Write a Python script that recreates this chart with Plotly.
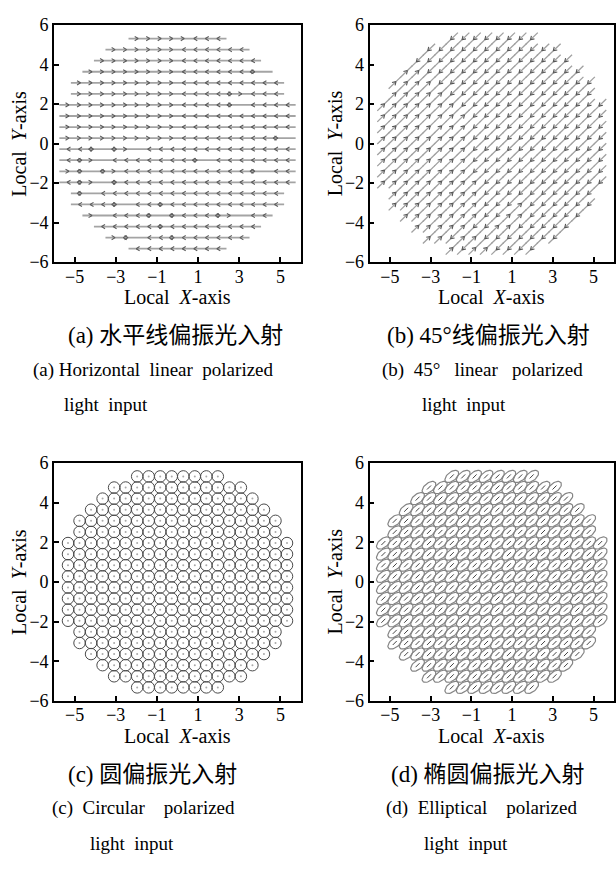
import math
import plotly.graph_objects as go

# ---------------- data ----------------
col_x = [-5.32, -4.76, -4.2, -3.64, -3.08, -2.52, -1.96, -1.4, -0.84, -0.28,
         0.28, 0.84, 1.4, 1.96, 2.52, 3.08, 3.64, 4.2, 4.76, 5.32]
row_y = [5.32, 4.76, 4.2, 3.64, 3.08, 2.52, 1.96, 1.4, 0.84, 0.28,
         -0.28, -0.84, -1.4, -1.96, -2.52, -3.08, -3.64, -4.2, -4.76, -5.32]
row_first = [6, 4, 3, 2, 1, 1, 0, 0, 0, 0, 0, 0, 0, 0, 1, 1, 2, 3, 4, 6]
row_last = [13, 15, 16, 17, 18, 18, 19, 19, 19, 19, 19, 19, 19, 19, 18, 18, 17, 16, 15, 13]

# panel (a): horizontal polarisation direction per cell ('>' right, '<' left, 'B' both, '-' none)
dir_a = [
    ">>>>><<<",
    ">>>>>><<<<<<",
    ">>>>>>><<<<<<<",
    ">>>>>>>><<<<<<B-",
    ">>>>>>>>><<<<<<<<<",
    ">>>>>>>>><<<<B><<<",
    ">>>>>>>>>><<<<B-<<<<",
    ">>>>>>>>>><<<<<<<<<<",
    ">>>>>>>>>><<<<<<<<<<",
    ">>>>>>>>>><<<<<<<<B-",
    "<<B-B>-<<<<<<<<<<<<<",
    "<B>-<<<<<<<B-<<<<<<<",
    ">B-B><<<<<<<<<<<B-<<",
    "<B>-B<<<<<<<<<<<<<<<",
    "B-<<<<<<<<<<<<<<<<",
    "<<<B-<<B<<<<<<<<<<",
    ">-<<<B-B<<<B>-<<",
    "<<<<<B<<<<<<<<",
    ">B-<<B<<<<<<",
    "<<<<<<<<",
]

# panel (b): 45 deg polarisation direction per cell ('u' up-right, 'd' down-left)
dir_b = [
    "dddddddd",
    "dddddddddddd",
    "dddddddddddddd",
    "uudddddddddddddd",
    "uuuudddddddddddddd",
    "uuuuuddddddddddddd",
    "uuuuuuuddddddddddddd",
    "uuuuuuuudddddddddddd",
    "uuuuuuuudddddddddddd",
    "uuuuuuuudddddddddddd",
    "uuuuuuuudddddddddddd",
    "uuuuuuuudddddddddddd",
    "uuuuuuuudddddddddddd",
    "uuuuuuuuuddddddddddd",
    "uuuuuuuudddddddddd",
    "uuuuuuuudddudddddd",
    "uuuuuuudduuddddd",
    "uuuuudduuddddd",
    "uuduuddddddd",
    "uduudddd",
]

# panel (d): ellipse parameters (semi-major, semi-minor, tilt in degrees)
ell_a, ell_b, ell_tilt = 0.40, 0.22, 40.0

x_ticks = [-5, -3, -1, 1, 3, 5]
y_ticks = [-6, -4, -2, 0, 2, 4, 6]

panel_names = ["a", "b", "c", "d"]
caption_cn = ["(a) 水平线偏振光入射", "(b) 45°线偏振光入射", "(c) 圆偏振光入射", "(d) 椭圆偏振光入射"]
caption_en1_label = ["(a)", "(b)", "(c)", "(d)"]
caption_en1_words = [["Horizontal", "linear", "polarized"],
                     ["45°", "linear", "polarized"],
                     ["Circular", "polarized"],
                     ["Elliptical", "polarized"]]
caption_en2_words = ["light", "input"]

# ---------------- layout geometry (pixels) ----------------
W, H = 616, 877
boxes = {  # left, right, top, bottom
    "a": (54, 301, 15.5, 258),
    "b": (369.5, 614, 15.5, 258),
    "c": (54, 301, 463.5, 707),
    "d": (369.5, 614, 463.5, 707),
}
axis_ids = {"a": ("x", "y"), "b": ("x2", "y2"), "c": ("x3", "y3"), "d": ("x4", "y4")}
# caption word spacing (extra no-break spaces after the label / between words), justified lines
label_gap = {"a": 0, "b": 1, "c": 1, "d": 1}
word_gap = {"a": 1, "b": 2, "c": 3, "d": 3}
cap_pos = {  # cn center x, en1 left x, en2 left x, first line y
    "a": (175, 31, 62, 333),
    "b": (489, 380, 420, 333),
    "c": (152, 50, 88, 782),
    "d": (488, 384, 422, 782),
}

SERIF = "Liberation Serif, Times New Roman, Noto Sans CJK SC, serif"
HEAD_LEN = 0.2        # arrow-head arm length (data units)
HEAD_HALF_ANGLE = 32  # degrees


def cells():
    for r, y in enumerate(row_y):
        for k in range(row_first[r], row_last[r] + 1):
            yield r, k, col_x[k], y


def chevron(xs, ys, x, y, ang_deg):
    """append a '>'-like arrow head whose tip is at (x, y) pointing at ang_deg"""
    a = math.radians(ang_deg)
    for s in (+1, -1):
        b = a + math.pi + s * math.radians(HEAD_HALF_ANGLE)
        xs += [x, x + HEAD_LEN * math.cos(b), None]
        ys += [y, y + HEAD_LEN * math.sin(b), None]


fig = go.Figure()

# ----- panel (a) -----
xa, ya = axis_ids["a"]
lx, ly = [], []
for r, y in enumerate(row_y):
    lx += [col_x[row_first[r]] - 0.42, col_x[row_last[r]] + 0.42, None]
    ly += [y, y, None]
fig.add_trace(go.Scatter(x=lx, y=ly, mode="lines", line=dict(color="#a4a4a4", width=1.8),
                         xaxis=xa, yaxis=ya, hoverinfo="skip"))
hx, hy = [], []
for r, k, x, y in cells():
    c = dir_a[r][k - row_first[r]]
    if c == ">":
        chevron(hx, hy, x + 0.05, y, 0)
    elif c == "<":
        chevron(hx, hy, x - 0.05, y, 180)
    elif c == "B":
        chevron(hx, hy, x - 0.12, y, 180)
        chevron(hx, hy, x + 0.12, y, 0)
fig.add_trace(go.Scatter(x=hx, y=hy, mode="lines", line=dict(color="#5a5a5a", width=1.1),
                         xaxis=xa, yaxis=ya, hoverinfo="skip"))

# ----- panel (b) -----
xb, yb = axis_ids["b"]
lx, ly, hx, hy = [], [], [], []
h = 0.3
for r, k, x, y in cells():
    lx += [x - h, x + h, None]
    ly += [y - h, y + h, None]
    c = dir_b[r][k - row_first[r]]
    if c == "u":
        chevron(hx, hy, x + 0.06, y + 0.06, 45)
    else:
        chevron(hx, hy, x - 0.06, y - 0.06, 225)
fig.add_trace(go.Scatter(x=lx, y=ly, mode="lines", line=dict(color="#a0a0a0", width=1.3),
                         xaxis=xb, yaxis=yb, hoverinfo="skip"))
fig.add_trace(go.Scatter(x=hx, y=hy, mode="lines", line=dict(color="#555", width=1.1),
                         xaxis=xb, yaxis=yb, hoverinfo="skip"))

# ----- panel (c) -----
xc, yc = axis_ids["c"]
cx = [x for _, _, x, _ in cells()]
cy = [y for _, _, _, y in cells()]
fig.add_trace(go.Scatter(x=cx, y=cy, mode="markers",
                         marker=dict(symbol="circle-open", size=11.5, color="#4a4a4a",
                                     line=dict(color="#4a4a4a", width=1)),
                         xaxis=xc, yaxis=yc, hoverinfo="skip"))
fig.add_trace(go.Scatter(x=cx, y=cy, mode="markers",
                         marker=dict(symbol="circle", size=2, color="#aaa"),
                         xaxis=xc, yaxis=yc, hoverinfo="skip"))

# ----- panel (d) -----
xd, yd = axis_ids["d"]
ex, ey = [], []
t = math.radians(ell_tilt)
n = 40
for _, _, x, y in cells():
    for i in range(n + 1):
        s = 2 * math.pi * i / n
        u, v = ell_a * math.cos(s), ell_b * math.sin(s)
        ex.append(x + u * math.cos(t) - v * math.sin(t))
        ey.append(y + u * math.sin(t) + v * math.cos(t))
    ex.append(None); ey.append(None)
fig.add_trace(go.Scatter(x=ex, y=ey, mode="lines", line=dict(color="#858585", width=1.2),
                         xaxis=xd, yaxis=yd, hoverinfo="skip"))
fig.add_trace(go.Scatter(x=cx, y=cy, mode="markers",
                         marker=dict(symbol="line-ne", size=4, color="#444",
                                     line=dict(color="#444", width=1)),
                         xaxis=xd, yaxis=yd, hoverinfo="skip"))

# ----- axes -----
layout = dict(width=W, height=H, margin=dict(l=0, r=0, t=0, b=0), autosize=False,
              paper_bgcolor="white", plot_bgcolor="white", showlegend=False)
annotations = []
for p in panel_names:
    l, rgt, top, bot = boxes[p]
    xid, yid = axis_ids[p]
    xkey = "xaxis" + xid[1:]
    ykey = "yaxis" + yid[1:]
    common = dict(range=[-6, 6], showline=True, mirror=True, linecolor="black", linewidth=1.6,
                  ticks="inside", ticklen=5, tickwidth=1.5, tickcolor="black",
                  showgrid=False, zeroline=False, fixedrange=True,
                  tickfont=dict(family=SERIF, size=18, color="black"))
    layout[xkey] = dict(common, domain=[l / W, rgt / W], anchor=yid, tickvals=x_ticks,
                        ticklabelstandoff=-3)
    layout[ykey] = dict(common, domain=[1 - bot / H, 1 - top / H], anchor=xid, tickvals=y_ticks)
    cxp = (l + rgt) / 2
    cyp = (top + bot) / 2
    annotations.append(dict(x=cxp / W, y=1 - (bot + 36) / H, xref="paper", yref="paper",
                            text="Local\u00a0 <i>X</i>-axis", showarrow=False,
                            font=dict(family=SERIF, size=20, color="black"),
                            xanchor="center", yanchor="middle"))
    annotations.append(dict(x=(l - 35) / W, y=1 - cyp / H, xref="paper", yref="paper",
                            text="Local\u00a0 <i>Y</i>-axis", showarrow=False, textangle=-90,
                            font=dict(family=SERIF, size=20, color="black"),
                            xanchor="center", yanchor="middle"))

for i, p in enumerate(panel_names):
    cnx, e1x, e2x, y0 = cap_pos[p]
    wgap = " " + "\u00a0" * word_gap[p]
    en1 = caption_en1_label[i] + " " + "\u00a0" * label_gap[p] + wgap.join(caption_en1_words[i])
    en2 = " \u00a0".join(caption_en2_words)
    annotations.append(dict(x=cnx / W, y=1 - y0 / H, xref="paper", yref="paper",
                            text=caption_cn[i], showarrow=False,
                            font=dict(family=SERIF, size=23, color="black"),
                            xanchor="center", yanchor="middle"))
    annotations.append(dict(x=e1x / W, y=1 - (y0 + 35) / H, xref="paper", yref="paper",
                            text=en1, showarrow=False,
                            font=dict(family=SERIF, size=19, color="black"),
                            xanchor="left", yanchor="middle"))
    annotations.append(dict(x=e2x / W, y=1 - (y0 + 71) / H, xref="paper", yref="paper",
                            text=en2, showarrow=False,
                            font=dict(family=SERIF, size=19, color="black"),
                            xanchor="left", yanchor="middle"))
layout["annotations"] = annotations
fig.update_layout(**layout)
fig.write_html("out.html", config={"displayModeBar": False},
               post_script="document.body.style.margin='0px';")
